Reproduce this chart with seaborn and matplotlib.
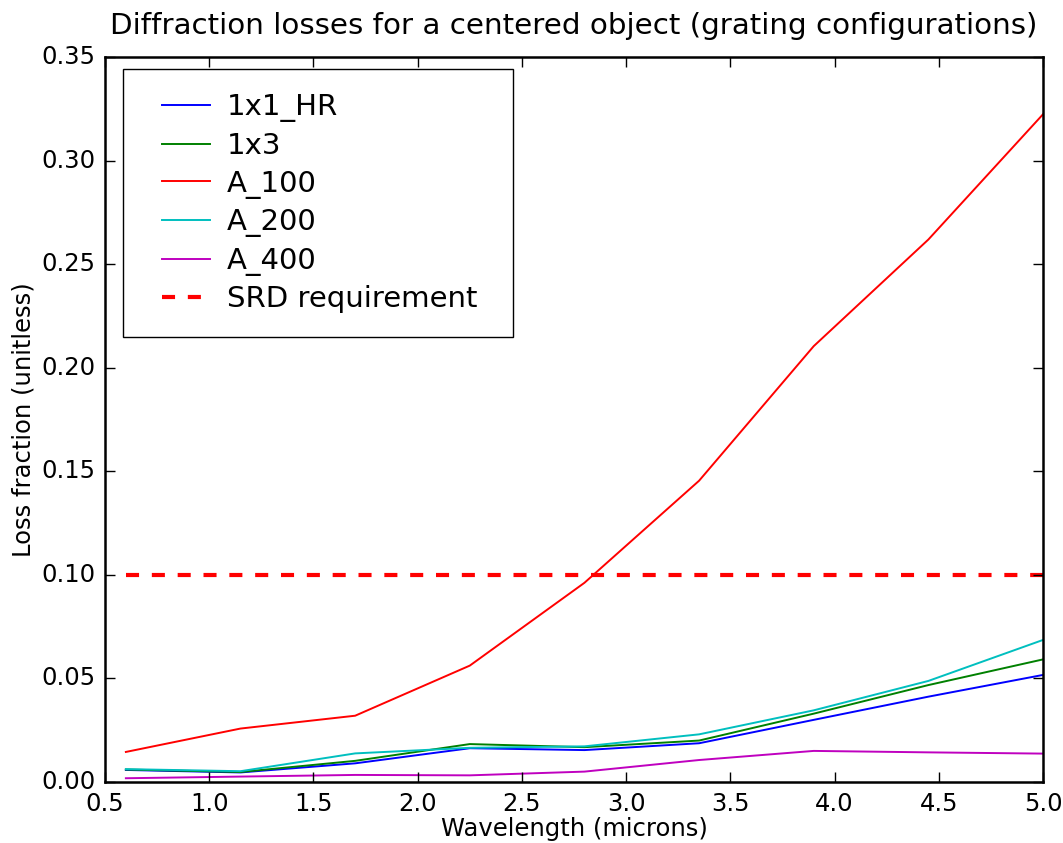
import matplotlib
matplotlib.use("Agg")
import matplotlib.pyplot as plt
from matplotlib.legend_handler import HandlerLine2D
import numpy as np
import pandas as pd
import seaborn as sns

# Wavelength grid (microns)
wavelength = [0.6, 1.15, 1.7, 2.25, 2.8, 3.35, 3.9, 4.45, 5.0]

# Diffraction loss fractions per grating configuration
loss_1x1_hr = [0.0058, 0.0046, 0.0090, 0.0163, 0.0154, 0.0187, 0.0300, 0.0412, 0.0517]
loss_1x3 = [0.0060, 0.0048, 0.0102, 0.0183, 0.0168, 0.0200, 0.0330, 0.0468, 0.0592]
loss_a100 = [0.0145, 0.0258, 0.0320, 0.0562, 0.0962, 0.1455, 0.2105, 0.2620, 0.3225]
loss_a200 = [0.0062, 0.0052, 0.0138, 0.0165, 0.0172, 0.0230, 0.0346, 0.0488, 0.0686]
loss_a400 = [0.0018, 0.0026, 0.0034, 0.0032, 0.0050, 0.0106, 0.0150, 0.0143, 0.0137]

series_names = ["1x1_HR", "1x3", "A_100", "A_200", "A_400"]
series_values = [loss_1x1_hr, loss_1x3, loss_a100, loss_a200, loss_a400]
series_colors = ["b", "g", "r", "c", "m"]

# Requirement level
srd_level = 0.10
srd_x = [0.6, 5.0]

x_ticks = [0.5, 1.0, 1.5, 2.0, 2.5, 3.0, 3.5, 4.0, 4.5, 5.0]
y_ticks = [0.00, 0.05, 0.10, 0.15, 0.20, 0.25, 0.30, 0.35]

plt.style.use("classic")
plt.rcParams["font.family"] = ["DejaVu Sans"]
plt.rcParams["font.size"] = 17.5

df = pd.DataFrame({
    "wavelength": np.tile(wavelength, len(series_names)),
    "loss": np.concatenate(series_values),
    "config": np.repeat(series_names, len(wavelength)),
})

fig = plt.figure(figsize=(10.63, 8.43), dpi=100, facecolor="white")
ax = fig.add_axes([0.0988, 0.0724, 0.8824, 0.8596])
ax.set_facecolor("white")

sns.lineplot(data=df, x="wavelength", y="loss", hue="config",
             hue_order=series_names, palette=dict(zip(series_names, series_colors)),
             linewidth=1.4, ax=ax, legend=False, estimator=None, sort=False)

srd_df = pd.DataFrame({"wavelength": srd_x, "loss": [srd_level] * len(srd_x)})
sns.lineplot(data=srd_df, x="wavelength", y="loss", color="r", linewidth=3,
             linestyle="--", ax=ax, legend=False)
ax.lines[-1].set_dashes((9.4, 9.2))

# Legend built from the drawn lines; handle lines are inset from the frame
handles = ax.lines[: len(series_names)] + [ax.lines[-1]]
labels = series_names + ["SRD requirement"]
inset = HandlerLine2D(xpad=0.51, numpoints=1)
leg = ax.legend(handles, labels, loc="upper left",
                bbox_to_anchor=(0.0192, 0.5, 0.4158, 0.4834), mode="expand",
                fontsize=21, fancybox=False, frameon=True, borderpad=0.82,
                labelspacing=0.33, handlelength=2.16, handletextpad=0.58,
                borderaxespad=0.0, numpoints=1,
                handler_map={h: inset for h in handles})
leg.get_frame().set_edgecolor("black")
leg.get_frame().set_linewidth(1.0)

ax.set_xlim(0.5, 5.0)
ax.set_ylim(0.0, 0.35)
ax.set_xticks(x_ticks)
ax.set_yticks(y_ticks)
ax.set_xticklabels([f"{v:.1f}" for v in x_ticks])
ax.set_yticklabels([f"{v:.2f}" for v in y_ticks])
ax.tick_params(direction="in", length=7, width=1, top=True, right=True,
               labelsize=17.5, pad=7)
for s in ax.spines.values():
    s.set_linewidth(1.8)

ax.set_xlabel("Wavelength (microns)", fontsize=17.5, labelpad=1)
ax.set_ylabel("Loss fraction (unitless)", fontsize=17.5, labelpad=4)
ax.set_title("Diffraction losses for a centered object (grating configurations)",
             fontsize=21.2, pad=17)

fig.savefig("out.png", dpi=100, facecolor="white")
